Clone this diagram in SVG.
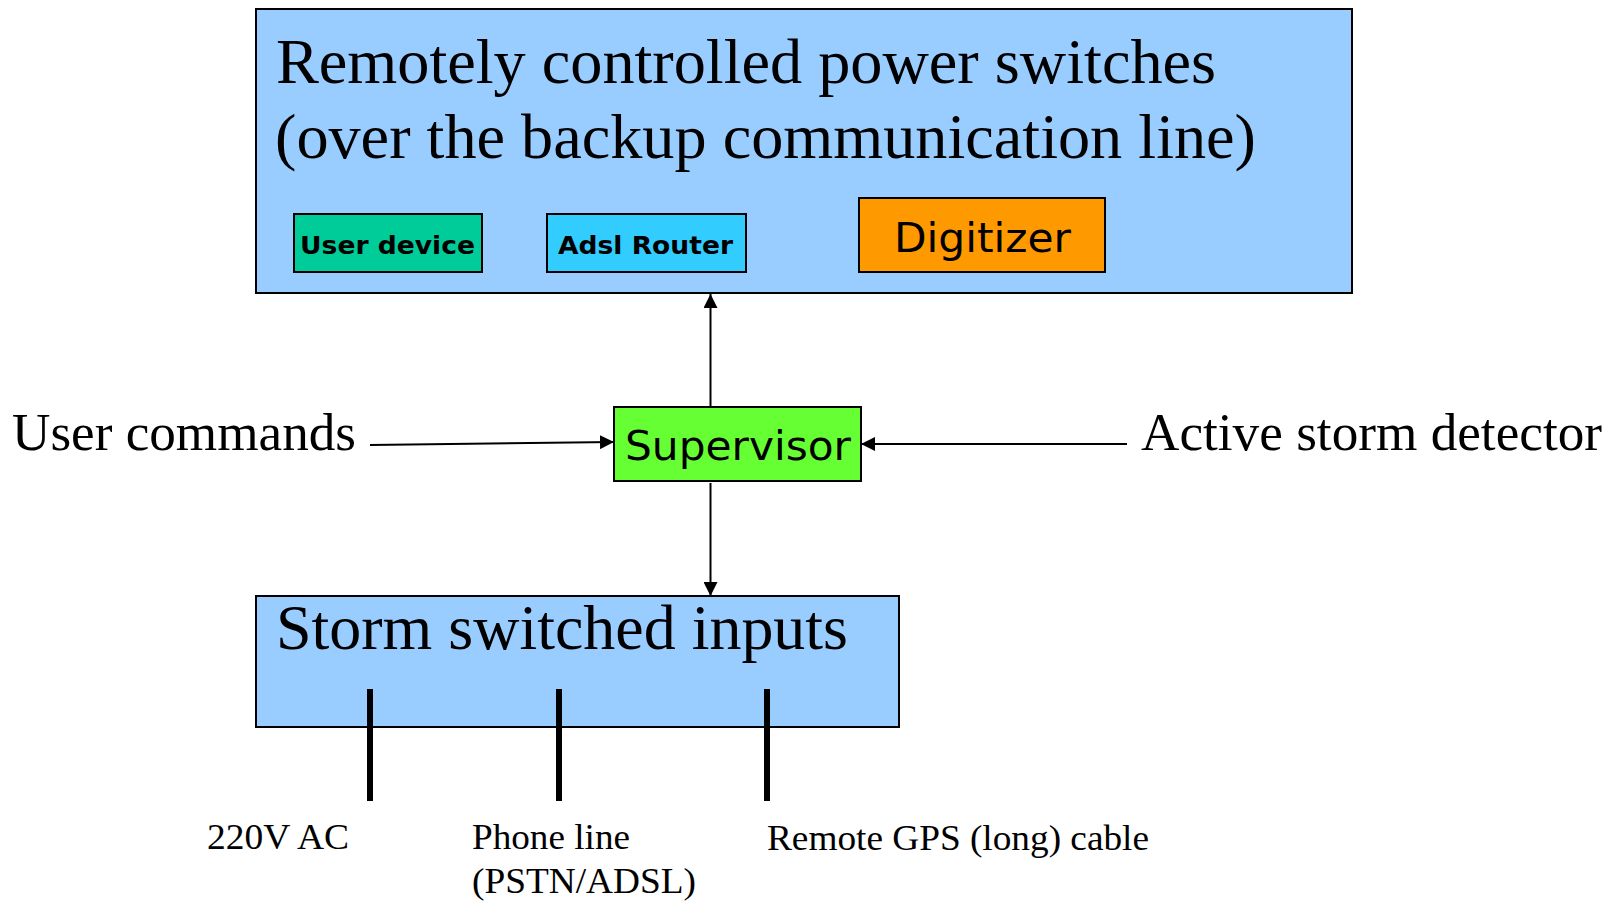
<svg xmlns="http://www.w3.org/2000/svg" width="1620" height="902" viewBox="0 0 1620 902">
  <style>
    .box { stroke: #000; stroke-width: 2; }
    .serif { font-family: "Liberation Serif", "Times New Roman", serif; fill: #000; }
    .sans { font-family: "DejaVu Sans", "Liberation Sans", sans-serif; fill: #000; }
    .bold { font-weight: bold; }
    .conn { stroke: #000; stroke-width: 2; fill: none; marker-end: url(#arrow); }
    .bar { stroke: #000; stroke-width: 6; }
  </style>
  <defs>
    <marker id="arrow" markerUnits="userSpaceOnUse" markerWidth="14" markerHeight="14" refX="14" refY="7" orient="auto">
      <path d="M0,0 L14,7 L0,14 z" fill="#000"/>
    </marker>
  </defs>
  <rect width="1620" height="902" fill="#fff"/>

  <g id="power-switches">
    <rect class="box" x="256" y="9" width="1096" height="284" fill="#99ccff"/>
    <text class="serif" x="276" y="83" font-size="64" textLength="940" lengthAdjust="spacingAndGlyphs">Remotely controlled power switches</text>
    <text class="serif" x="275" y="158" font-size="64" textLength="981" lengthAdjust="spacingAndGlyphs">(over the backup communication line)</text>
  </g>

  <g id="user-device">
    <rect class="box" x="294" y="214" width="188" height="58" fill="#00cc99"/>
    <text class="sans bold" x="300" y="254" font-size="25" textLength="175" lengthAdjust="spacingAndGlyphs">User device</text>
  </g>

  <g id="adsl-router">
    <rect class="box" x="547" y="214" width="199" height="58" fill="#33ccff"/>
    <text class="sans bold" x="558" y="254" font-size="25" textLength="175" lengthAdjust="spacingAndGlyphs">Adsl Router</text>
  </g>

  <g id="digitizer">
    <rect class="box" x="859" y="198" width="246" height="74" fill="#ff9900"/>
    <text class="sans" x="894" y="252" font-size="40" textLength="177" lengthAdjust="spacingAndGlyphs">Digitizer</text>
  </g>

  <g id="supervisor">
    <rect class="box" x="614" y="407" width="247" height="74" fill="#66ff33"/>
    <text class="sans" x="625" y="460" font-size="40" textLength="226" lengthAdjust="spacingAndGlyphs">Supervisor</text>
  </g>

  <g id="user-commands">
    <text class="serif" x="12" y="450" font-size="53" textLength="344" lengthAdjust="spacingAndGlyphs">User commands</text>
  </g>

  <g id="storm-detector">
    <text class="serif" x="1141" y="450" font-size="53" textLength="461" lengthAdjust="spacingAndGlyphs">Active storm detector</text>
  </g>

  <g id="storm-inputs">
    <rect class="box" x="256" y="596" width="643" height="131" fill="#99ccff"/>
    <text class="serif" x="276" y="649" font-size="64" textLength="572" lengthAdjust="spacingAndGlyphs">Storm switched inputs</text>
    <line class="bar" x1="370" y1="689" x2="370" y2="801"/>
    <line class="bar" x1="559" y1="689" x2="559" y2="801"/>
    <line class="bar" x1="767" y1="689" x2="767" y2="801"/>
  </g>

  <g id="label-220v">
    <text class="serif" x="207" y="849" font-size="35" textLength="142" lengthAdjust="spacingAndGlyphs">220V AC</text>
  </g>
  <g id="label-phone">
    <text class="serif" x="472" y="849" font-size="35" textLength="158" lengthAdjust="spacingAndGlyphs">Phone line</text>
    <text class="serif" x="472" y="893" font-size="35" textLength="224" lengthAdjust="spacingAndGlyphs">(PSTN/ADSL)</text>
  </g>
  <g id="label-gps">
    <text class="serif" x="767" y="850" font-size="35" textLength="382" lengthAdjust="spacingAndGlyphs">Remote GPS (long) cable</text>
  </g>

  <g id="connectors">
    <path class="conn" d="M710.5,407 L710.5,294"/>
    <path class="conn" d="M710.5,483 L710.5,596"/>
    <path class="conn" d="M370,445 L614,442"/>
    <path class="conn" d="M1127,444 L861,444"/>
  </g>
</svg>
